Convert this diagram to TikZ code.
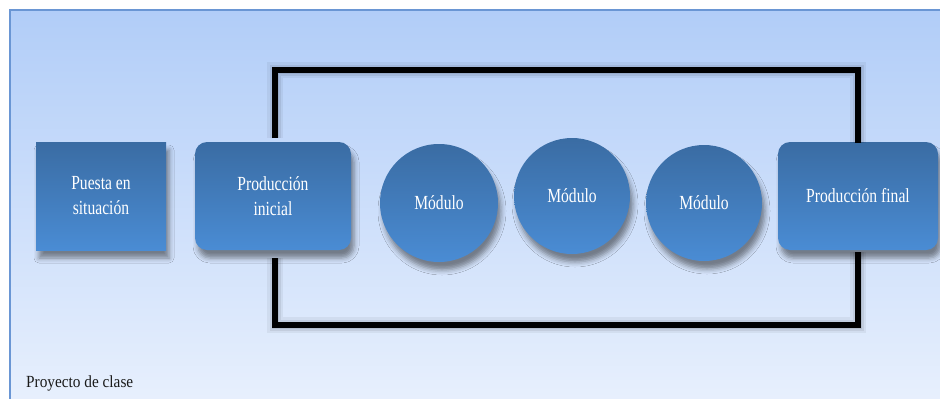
\documentclass[tikz,border=0pt]{standalone}
\usepackage{fontspec}
\setmainfont{Liberation Serif}
\usetikzlibrary{shadows.blur}
\definecolor{paneltop}{HTML}{B1CDF8}
\definecolor{panelmid}{HTML}{D2E1FA}
\definecolor{panelbot}{HTML}{E8F0FD}
\definecolor{panelline}{HTML}{6A96D4}
\definecolor{boxtop}{HTML}{3A6CA3}
\definecolor{boxbot}{HTML}{4A8CD4}
\definecolor{captext}{HTML}{1A1A1A}
\newcommand{\cond}[1]{\scalebox{0.78}[1]{#1}}
\newcommand{\condb}[1]{\scalebox{0.9}[1]{#1}}
\tikzset{
  boxbase/.style={top color=boxtop, bottom color=boxbot, draw=none, text=white,
    font=\fontsize{20}{25}\selectfont, align=center, inner sep=0pt,
    blur shadow={shadow xshift=3pt, shadow yshift=-8pt, shadow blur radius=5pt, shadow opacity=45}},
  squarebox/.style={boxbase, rectangle, minimum width=130pt, minimum height=108pt},
  roundbox/.style={boxbase, rectangle, rounded corners=12pt, minimum height=108pt},
  circbox/.style={boxbase, circle, minimum size=#1},
  bracket/.style={draw=black, line width=6pt, line join=miter, line cap=butt},
  bshadow/.style={draw=black, line join=miter, opacity=#1},
}
\begin{document}
\begin{tikzpicture}[x=1pt,y=-1pt]
\useasboundingbox (0,0) rectangle (940,399);
\fill[white] (0,0) rectangle (940,399);
\shade[top color=paneltop, middle color=panelmid, bottom color=panelbot] (9.5,9.5) rectangle (945,405);
\draw[panelline, line width=2pt] (945,10) -- (10,10) -- (10,405);

% nodes
\node[squarebox] (ps) at (101,196) {\cond{Puesta en}\\\cond{situación}};
\node[roundbox, minimum width=156pt] (pi) at (273,196) {\cond{Producción}\\\cond{inicial}};
\node[circbox=118pt] (m1) at (439,203) {\cond{Módulo}};
\node[circbox=116pt] (m2) at (572,196) {\cond{Módulo}};
\node[circbox=116pt] (m3) at (704,203) {\cond{Módulo}};
\node[roundbox, minimum width=160pt] (pf) at (858,196) {\raisebox{-2pt}{\cond{Producción final}}};

% bracket coordinates
\coordinate (a1) at (275,138);
\coordinate (tl) at (275,70);
\coordinate (tr) at (858,70);
\coordinate (a2) at (858,143);
\coordinate (b1) at (275,258);
\coordinate (bl) at (275,325);
\coordinate (br) at (858,325);
\coordinate (b2) at (858,252);

% soft shadows of the bracket lines
\begin{scope}[xshift=2pt, yshift=-7pt]
  \draw[bshadow=0.05, line width=16pt] (a1) -- (tl) -- (tr) -- (a2);
  \draw[bshadow=0.07, line width=11pt] (a1) -- (tl) -- (tr) -- (a2);
  \draw[bshadow=0.08, line width=7pt] (a1) -- (tl) -- (tr) -- (a2);
  \draw[bshadow=0.05, line width=16pt] (b1) -- (bl) -- (br) -- (b2);
  \draw[bshadow=0.07, line width=11pt] (b1) -- (bl) -- (br) -- (b2);
  \draw[bshadow=0.08, line width=7pt] (b1) -- (bl) -- (br) -- (b2);
\end{scope}

\draw[bracket] (a1) -- (tl) -- (tr) -- (a2);
\draw[bracket] (b1) -- (bl) -- (br) -- (b2);

\node[anchor=base west, inner sep=0pt, text=captext, font=\fontsize{17}{20}\selectfont] (pc) at (26,387) {\condb{Proyecto de clase}};
\end{tikzpicture}
\end{document}
